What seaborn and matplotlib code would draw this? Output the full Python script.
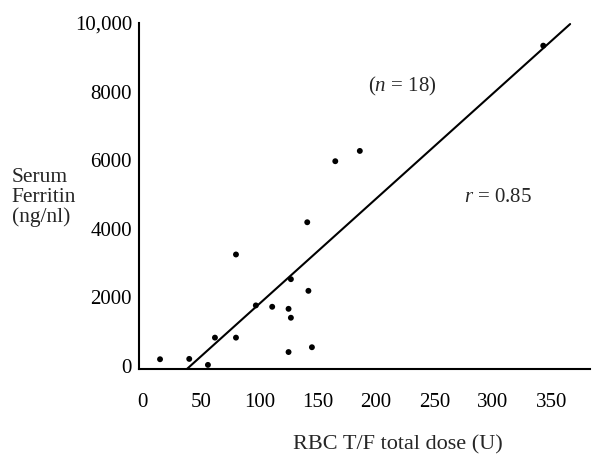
import numpy as np
import pandas as pd
import matplotlib
matplotlib.use("Agg")
import matplotlib.pyplot as plt
import seaborn as sns

# values
dose = [15, 40, 56, 62, 80, 80, 97, 111, 125, 127, 127, 125, 142, 145, 141, 165, 186, 343]
ferritin = [195, 205, 30, 825, 825, 3250, 1765, 1725, 1665, 1405, 2530, 405, 2190, 545, 4190, 5970, 6270, 9340]

# fitted line as drawn in the figure (end points)
fit_dose = [38, 366]
fit_ferritin = [-90, 9970]

x_ticks = [0, 50, 100, 150, 200, 250, 300, 350]
y_ticks = [0, 2000, 4000, 6000, 8000, 10000]
y_ticklabels = ["0", "2000", "4000", "6000", "8000", "10,000"]

df = pd.DataFrame({"dose": dose, "ferritin": ferritin})
fit = pd.DataFrame({"dose": fit_dose, "ferritin": fit_ferritin})

sns.set_style("ticks")
plt.rcParams["font.family"] = ["Liberation Serif", "DejaVu Serif"]
plt.rcParams["mathtext.fontset"] = "custom"
plt.rcParams["mathtext.rm"] = "Liberation Serif"
plt.rcParams["mathtext.it"] = "Liberation Serif:italic"

fig = plt.figure(figsize=(5.92, 4.54), dpi=100)
ax = fig.add_axes([0.2348, 0.1872, 0.7618, 0.7621])

sns.lineplot(data=fit, x="dose", y="ferritin", color="black", linewidth=1.5, ax=ax)
sns.scatterplot(data=df, x="dose", y="ferritin", color="black", s=18, edgecolor="none", ax=ax)

ax.set_xlim(-3, 383)
ax.set_ylim(-90, 10000)
ax.set_xticks(x_ticks)
ax.set_yticks(y_ticks)
ax.set_yticklabels(y_ticklabels)
ax.tick_params(axis="both", length=0, labelsize=15, colors="black")
ax.tick_params(axis="x", pad=17)
ax.tick_params(axis="y", pad=5)

for side in ["top", "right"]:
    ax.spines[side].set_visible(False)
for side in ["left", "bottom"]:
    ax.spines[side].set_linewidth(1.5)
    ax.spines[side].set_color("black")

ax.set_xlabel("RBC T/F total dose (U)", fontsize=16)
ax.xaxis.set_label_coords(0.574, -0.19)
ax.set_ylabel("Serum\nFerritin\n(ng/nl)", fontsize=15.5, rotation=0,
              ha="left", va="center", multialignment="left", linespacing=1.05)
ax.yaxis.set_label_coords(-0.282, 0.495)

ax.text(222, 8140, r"($n$ = 18)", fontsize=15, ha="center", va="center")
ax.text(304, 4910, r"$r$ = 0.85", fontsize=15, ha="center", va="center")

fig.savefig("out.png", dpi=100)
